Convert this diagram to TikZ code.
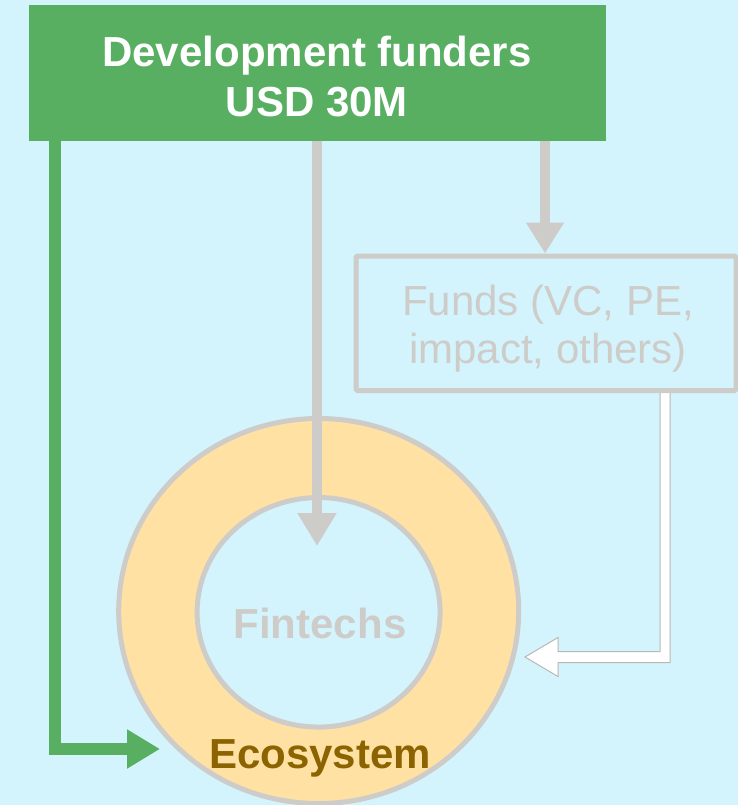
\documentclass[tikz,border=0pt]{standalone}
\usepackage{fontspec}
\setmainfont{Liberation Sans}
\usetikzlibrary{arrows.meta,shapes.geometric}
\definecolor{bg}{HTML}{D3F4FD}
\definecolor{fgreen}{HTML}{58AF61}
\definecolor{fgrey}{HTML}{CECCC9}
\definecolor{ecofill}{HTML}{FFE1A3}
\definecolor{ecotext}{HTML}{8B6300}
\begin{document}
\begin{tikzpicture}[x=1pt,y=-1pt,
  fundersbox/.style={rectangle, fill=fgreen, inner sep=0pt, minimum width=577pt, minimum height=136pt},
  fundsbox/.style={rectangle, draw=fgrey, line width=5pt, rounded corners=1.5pt, inner sep=0pt, minimum width=380pt, minimum height=134.5pt},
  ring/.style={ellipse, draw=fgrey, line width=5pt, inner sep=0pt},
  lbl/.style={font=\fontsize{42}{50}\selectfont, inner sep=0pt, anchor=base},
  boldlbl/.style={lbl, font=\fontsize{42}{50}\selectfont\bfseries},
  greyarrow/.style={draw=fgrey, line width=10pt, -{Triangle[length=33pt,width=37pt]}},
  greenarrow/.style={draw=fgreen, line width=12pt, line join=miter, -{Triangle[length=33pt,width=37pt]}},
  whitearrow/.style={draw=fgrey!90!black, fill=white, line width=1pt, line join=miter}
]
\useasboundingbox (0,0) rectangle (738,805);
\fill[bg] (0,0) rectangle (738,805);

% ecosystem rings
\node[ring, fill=ecofill, minimum width=400pt, minimum height=385pt] (eco) at (318.7,611) {};
\node[ring, fill=bg, minimum width=243pt, minimum height=229.5pt] (fin) at (318.6,612.3) {};
\node[boldlbl, text=fgrey] (fintext) at (320,638) {Fintechs};
\node[boldlbl, text=ecotext] (ecotext) at (320,768) {Ecosystem};

% white return arrow from funds to ecosystem
\draw[whitearrow] (660,392) -- (660,651.5) -- (558,651.5) -- (558,637.5) -- (525,657) -- (558,676.5) -- (558,662.5) -- (670,662.5) -- (670,392);

% funds box
\node[fundsbox] (funds) at (546,323.25) {};
\node[lbl, text=fgrey] (fundsA) at (548,315) {Funds (VC, PE,};
\node[lbl, text=fgrey] (fundsB) at (548,363) {impact, others)};

% development funders
\node[fundersbox] (funders) at (317.5,73) {};
\node[boldlbl, text=white] (fundersA) at (317,66.5) {Development funders};
\node[boldlbl, text=white] (fundersB) at (317,116.5) {USD 30M};

% connectors
\coordinate (midtip) at (317,546);
\coordinate (rx) at (545,0);
\coordinate (gx) at (55,0);
\coordinate (greentip) at (160,749);
\draw[greyarrow] (midtip |- funders.south) -- (midtip);
\draw[greyarrow, -{Triangle[length=31pt,width=36pt]}] (rx |- funders.south) -- (rx |- funds.north);
\draw[greenarrow] (gx |- funders.south) |- (greentip);
\end{tikzpicture}
\end{document}
